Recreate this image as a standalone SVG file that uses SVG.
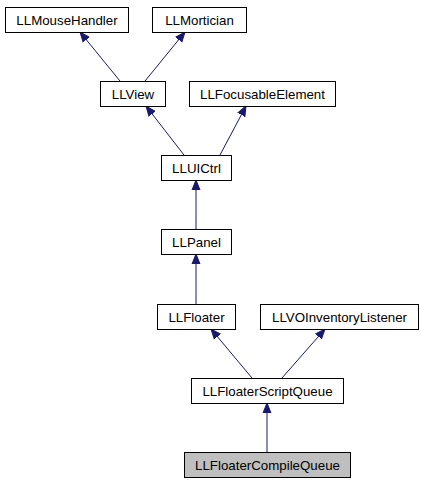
<svg xmlns="http://www.w3.org/2000/svg" width="421" height="485" viewBox="0 0 421 485">
<style>
.box{fill:#ffffff;stroke:#000000;stroke-width:1}
.cur{fill:#bfbfbf;stroke:#000000;stroke-width:1}
text{font-family:"Liberation Sans",Arial,sans-serif;font-size:13.3px;fill:#000000;text-anchor:middle}
.edge{stroke:#191970;stroke-width:1;fill:none;marker-end:url(#arr)}
</style>
<defs>
<marker id="arr" markerUnits="userSpaceOnUse" markerWidth="12" markerHeight="10" refX="10" refY="4" orient="auto" viewBox="0 0 12 8">
<path d="M0,0 L10,4 L0,8 z" fill="#191970" stroke="#191970" stroke-width="1"/>
</marker>
</defs>
<rect width="421" height="485" fill="#ffffff"/>
<g id="connectors">
<line class="edge" x1="120" y1="81" x2="80" y2="32"/>
<line class="edge" x1="145" y1="81" x2="185" y2="32"/>
<line class="edge" x1="184" y1="155" x2="146" y2="106"/>
<line class="edge" x1="220" y1="155" x2="246" y2="106"/>
<line class="edge" x1="196" y1="229" x2="196" y2="180"/>
<line class="edge" x1="196" y1="304" x2="196" y2="254"/>
<line class="edge" x1="252" y1="378" x2="211" y2="329"/>
<line class="edge" x1="282" y1="378" x2="325" y2="329"/>
<line class="edge" x1="267" y1="452" x2="267" y2="403"/>
</g>
<g id="LLMouseHandler"><rect class="box" x="5.5" y="7.5" width="123" height="25"/><text x="67" y="24.5">LLMouseHandler</text></g>
<g id="LLMortician"><rect class="box" x="152.5" y="7.5" width="94" height="25"/><text x="199.5" y="24.5">LLMortician</text></g>
<g id="LLView"><rect class="box" x="100.5" y="81.5" width="65" height="25"/><text x="133" y="98.5">LLView</text></g>
<g id="LLFocusableElement"><rect class="box" x="189.5" y="81.5" width="146" height="25"/><text x="262.5" y="98.5">LLFocusableElement</text></g>
<g id="LLUICtrl"><rect class="box" x="161.5" y="155.5" width="70" height="25"/><text x="196.5" y="172.5">LLUICtrl</text></g>
<g id="LLPanel"><rect class="box" x="161.5" y="229.5" width="70" height="25"/><text x="196.5" y="246.5">LLPanel</text></g>
<g id="LLFloater"><rect class="box" x="157.5" y="304.5" width="78" height="25"/><text x="196.5" y="321.5">LLFloater</text></g>
<g id="LLVOInventoryListener"><rect class="box" x="260.5" y="304.5" width="158" height="25"/><text x="339.5" y="321.5">LLVOInventoryListener</text></g>
<g id="LLFloaterScriptQueue"><rect class="box" x="191.5" y="378.5" width="152" height="25"/><text x="267.5" y="395.5">LLFloaterScriptQueue</text></g>
<g id="LLFloaterCompileQueue"><rect class="cur" x="184.5" y="452.5" width="166" height="25"/><text x="267.5" y="469.5">LLFloaterCompileQueue</text></g>
</svg>
